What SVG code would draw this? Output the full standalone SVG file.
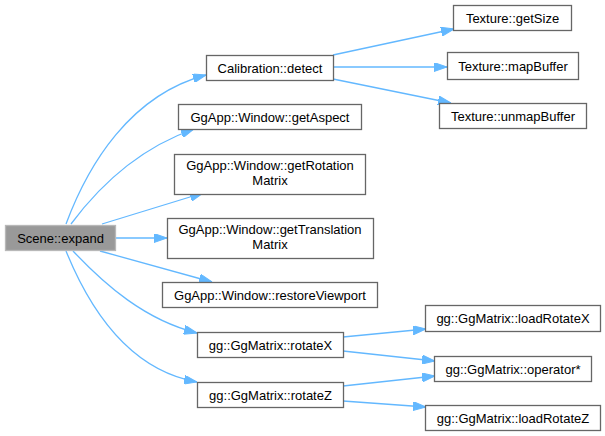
<svg xmlns="http://www.w3.org/2000/svg" width="605" height="436" viewBox="0 0 605 436">
<style>
.n rect{fill:#ffffff;stroke:#666666;stroke-width:1.3}
.cur rect{fill:#999999;stroke:#b8b8b8;stroke-width:1.3}
.n text{font-family:"Liberation Sans",Arial,sans-serif;font-size:13px;fill:#000000;text-anchor:middle}
.e path{fill:none;stroke:#63b8ff;stroke-width:1.3}
</style>
<defs>
<marker id="ah" viewBox="0 0 13 9" refX="13" refY="4.5" markerWidth="13" markerHeight="9" markerUnits="userSpaceOnUse" orient="auto">
<path d="M0,0 L13,4.5 L0,9 z" fill="#63b8ff" stroke="#63b8ff" stroke-width="1"/>
</marker>
</defs>
<rect width="605" height="436" fill="#ffffff"/>
<g id="edges" class="e">
<path d="M66,224 C88,165 130,95 206,75" marker-end="url(#ah)"/>
<path d="M71,224 C100,185 140,148 194,129" marker-end="url(#ah)"/>
<path d="M102,224 L203,193" marker-end="url(#ah)"/>
<path d="M115,238 L167,238" marker-end="url(#ah)"/>
<path d="M100,251 L212,282" marker-end="url(#ah)"/>
<path d="M73,251 C105,285 145,320 197,333" marker-end="url(#ah)"/>
<path d="M66,251 C90,310 130,370 197,382" marker-end="url(#ah)"/>
<path d="M333,55 L454,29" marker-end="url(#ah)"/>
<path d="M333,67 L447,67" marker-end="url(#ah)"/>
<path d="M333,79 L451,103" marker-end="url(#ah)"/>
<path d="M343,337 L426,329" marker-end="url(#ah)"/>
<path d="M343,351 L435,361" marker-end="url(#ah)"/>
<path d="M343,386 L435,376" marker-end="url(#ah)"/>
<path d="M343,401 L426,407" marker-end="url(#ah)"/>
</g>
<g id="scene_expand" class="n cur"><rect x="5.5" y="225.5" width="110" height="25"/><text x="60.5" y="242.5">Scene::expand</text></g>
<g id="calibration_detect" class="n"><rect x="206.5" y="55.5" width="127" height="25"/><text x="270" y="72.5">Calibration::detect</text></g>
<g id="getAspect" class="n"><rect x="178.5" y="104.5" width="183" height="25"/><text x="270" y="121.5">GgApp::Window::getAspect</text></g>
<g id="getRotationMatrix" class="n"><rect x="174.5" y="154.5" width="191" height="40"/><text x="270" y="170">GgApp::Window::getRotation</text><text x="270" y="185">Matrix</text></g>
<g id="getTranslationMatrix" class="n"><rect x="167.5" y="218.5" width="206" height="40"/><text x="270" y="234">GgApp::Window::getTranslation</text><text x="270" y="249">Matrix</text></g>
<g id="restoreViewport" class="n"><rect x="162.5" y="282.5" width="215" height="25"/><text x="270" y="299.5">GgApp::Window::restoreViewport</text></g>
<g id="rotateX" class="n"><rect x="197.5" y="332.5" width="146" height="25"/><text x="270.5" y="349.5">gg::GgMatrix::rotateX</text></g>
<g id="rotateZ" class="n"><rect x="197.5" y="382.5" width="146" height="25"/><text x="270.5" y="399.5">gg::GgMatrix::rotateZ</text></g>
<g id="getSize" class="n"><rect x="453.5" y="5.5" width="118" height="25"/><text x="512.5" y="22.5">Texture::getSize</text></g>
<g id="mapBuffer" class="n"><rect x="447.5" y="52.5" width="131" height="27"/><text x="513" y="70.5">Texture::mapBuffer</text></g>
<g id="unmapBuffer" class="n"><rect x="439.5" y="103.5" width="147" height="25"/><text x="513" y="120.5">Texture::unmapBuffer</text></g>
<g id="loadRotateX" class="n"><rect x="425.5" y="305.5" width="175" height="26"/><text x="513" y="322.5">gg::GgMatrix::loadRotateX</text></g>
<g id="operator_mul" class="n"><rect x="434.5" y="356.5" width="157" height="25"/><text x="513" y="373.5">gg::GgMatrix::operator*</text></g>
<g id="loadRotateZ" class="n"><rect x="425.5" y="405.5" width="175" height="25"/><text x="513" y="422.5">gg::GgMatrix::loadRotateZ</text></g>
</svg>
